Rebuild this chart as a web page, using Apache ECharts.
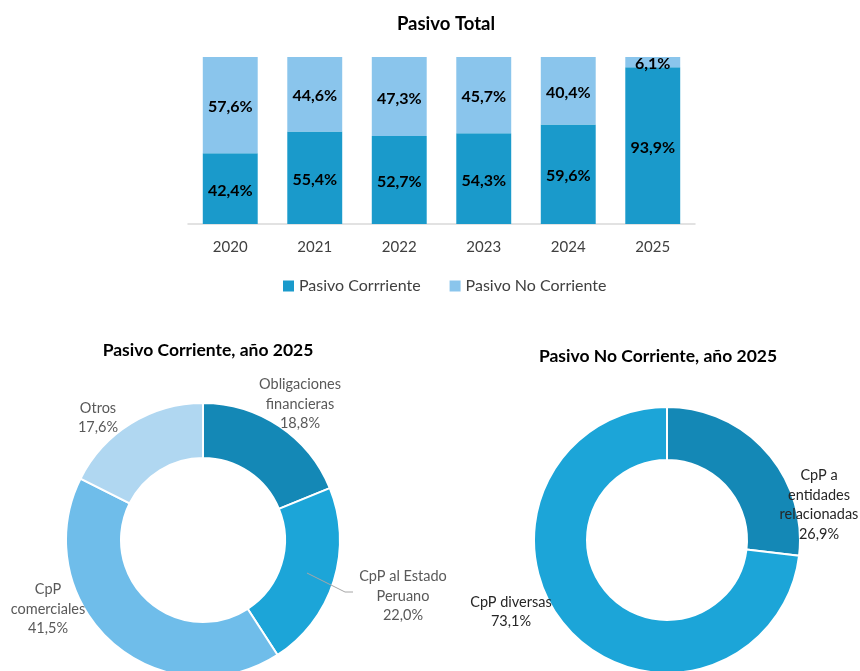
<!DOCTYPE html>
<html><head><meta charset="utf-8">
<script src="https://cdn.jsdelivr.net/npm/echarts@6/dist/echarts.min.js"></script>
<style>html,body{margin:0;padding:0;background:#fff}#c{width:860px;height:671px}</style>
</head><body><div id="c"></div>
<script>
const years = ['2020','2021','2022','2023','2024','2025'];
const pasivoCorriente = [42.4, 55.4, 52.7, 54.3, 59.6, 93.9];
const pasivoNoCorriente = [57.6, 44.6, 47.3, 45.7, 40.4, 6.1];
const pcNames = ['Obligaciones\nfinancieras', 'CpP al Estado\nPeruano', 'CpP\ncomerciales', 'Otros'];
const pcValues = [18.8, 22.0, 41.5, 17.6];
const pncNames = ['CpP a\nentidades\nrelacionadas', 'CpP diversas'];
const pncValues = [26.9, 73.1];

const FONT = 'Lato, "Open Sans", sans-serif';
const fmt = v => v.toFixed(1).replace('.', ',') + '%';
const pcColors = ['#1488B6', '#1CA5D8', '#6FBDEA', '#B0D7F1'];
const pncColors = ['#1488B6', '#1CA5D8'];
const pcLabelPos = [[300, 404], [403, 596], [48, 609], [98, 418]];
const pncLabelPos = [[819, 505], [511, 612]];

const chart = echarts.init(document.getElementById('c'), null, {renderer: 'canvas'});
chart.setOption({
  animation: false,
  textStyle: {fontFamily: FONT},
  title: [
    {text: 'Pasivo Total', left: 441, top: 10, textAlign: 'center', textStyle: {fontSize: 18.5, fontWeight: 'bold', color: '#000', fontFamily: FONT}},
    {text: 'Pasivo Corriente, año 2025', left: 203, top: 336, textAlign: 'center', textStyle: {fontSize: 17.5, fontWeight: 'bold', color: '#000', fontFamily: FONT}},
    {text: 'Pasivo No Corriente, año 2025', left: 653, top: 342, textAlign: 'center', textStyle: {fontSize: 17.5, fontWeight: 'bold', color: '#000', fontFamily: FONT}}
  ],
  legend: {
    data: ['Pasivo Corrriente', 'Pasivo No Corriente'],
    left: 278, top: 273, itemWidth: 11, itemHeight: 11, itemGap: 29, icon: 'rect',
    textStyle: {fontSize: 16, color: '#404040', fontFamily: FONT}
  },
  graphic: [
    {type: 'polyline', shape: {points: [[307, 573], [345, 592], [353, 592]]}, style: {stroke: '#A6A6A6', lineWidth: 1, fill: null}, z: 10}
  ],
  grid: {left: 188, right: 165, top: 57, height: 167},
  xAxis: {
    type: 'category', data: years,
    axisLine: {lineStyle: {color: '#D9D9D9', width: 1.5}},
    axisTick: {show: false},
    axisLabel: {fontSize: 15, color: '#404040', margin: 16, fontFamily: FONT}
  },
  yAxis: {type: 'value', min: 0, max: 100, show: false, splitLine: {show: false}},
  series: [
    {
      name: 'Pasivo Corrriente', type: 'bar', stack: 't', data: pasivoCorriente,
      barCategoryGap: '35%',
      itemStyle: {color: '#1A9ACB'},
      label: {show: true, position: 'inside', offset: [0, 2], formatter: p => fmt(p.value), fontSize: 16, fontWeight: 'bold', color: '#000', fontFamily: FONT}
    },
    {
      name: 'Pasivo No Corriente', type: 'bar', stack: 't', data: pasivoNoCorriente,
      itemStyle: {color: '#8AC5EC'},
      label: {show: true, position: 'inside', offset: [0, 2], formatter: p => fmt(p.value), fontSize: 16, fontWeight: 'bold', color: '#000', fontFamily: FONT}
    },
    {
      type: 'pie', center: [203, 540], radius: [82, 137], startAngle: 90, clockwise: true,
      data: pcNames.map((n, i) => ({name: n, value: pcValues[i], itemStyle: {color: pcColors[i]}})),
      itemStyle: {borderColor: '#fff', borderWidth: 2},
      label: {show: true, position: 'outside', alignTo: 'none', overflow: 'none', formatter: p => p.name + '\n' + fmt(p.value), fontSize: 14.5, lineHeight: 19.5, color: '#595959', align: 'center', fontFamily: FONT},
      labelLine: {show: false},
      labelLayout: p => ({x: pcLabelPos[p.dataIndex][0], y: pcLabelPos[p.dataIndex][1], align: 'center', verticalAlign: 'middle'}),
      emphasis: {disabled: true}
    },
    {
      type: 'pie', center: [667, 540], radius: [80, 133], startAngle: 90, clockwise: true,
      data: pncNames.map((n, i) => ({name: n, value: pncValues[i], itemStyle: {color: pncColors[i]}})),
      itemStyle: {borderColor: '#fff', borderWidth: 2},
      label: {show: true, position: 'outside', alignTo: 'none', overflow: 'none', formatter: p => p.name + '\n' + fmt(p.value), fontSize: 14.5, lineHeight: 19.5, color: '#262626', align: 'center', fontFamily: FONT},
      labelLine: {show: false},
      labelLayout: p => ({x: pncLabelPos[p.dataIndex][0], y: pncLabelPos[p.dataIndex][1], align: 'center', verticalAlign: 'middle'}),
      emphasis: {disabled: true}
    }
  ]
});
</script></body></html>
